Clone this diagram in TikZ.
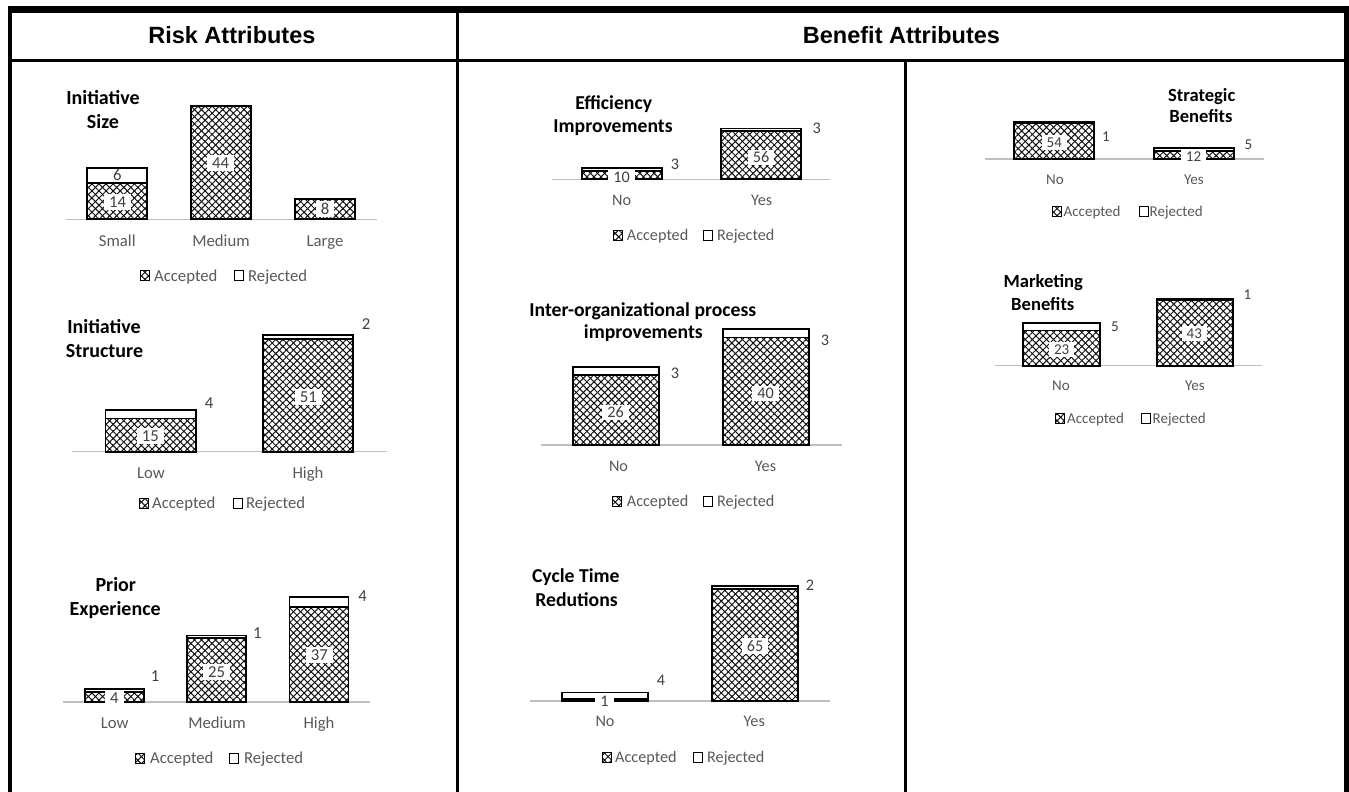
\documentclass[tikz,border=0pt]{standalone}
\usepackage{fontspec}
\setmainfont{Carlito}
\newfontfamily\hdrfont{Liberation Sans}
\usetikzlibrary{patterns.meta}
\definecolor{catgray}{HTML}{595959}
\definecolor{valgray}{HTML}{404040}
\definecolor{axgray}{HTML}{BFBFBF}
\definecolor{patc}{HTML}{101010}
\tikzset{
  frame/.style={draw=black},
  hdr/.style={font=\hdrfont\bfseries\fontsize{23.5}{28}\selectfont, anchor=base, inner sep=0pt},
  fs/.style={font=\fontsize{16.7}{20}\selectfont, text height=10.7pt},
  tfs/.style={font=\bfseries\fontsize{20}{24}\selectfont, text height=12.9pt},
  ttl/.style={tfs, text=black, text depth=0pt, inner sep=0pt},
  cat/.style={fs, text=catgray, text depth=0pt, inner sep=0pt},
  leg/.style={cat, anchor=west},
  val/.style={fs, text=valgray, text depth=0pt, fill=white, inner xsep=5pt, inner ysep=2.5pt},
  valout/.style={fs, text=valgray, text depth=0pt, inner sep=0pt},
  axis/.style={draw=axgray, line width=1.3pt},
  barline/.style={draw=black, line width=1.8pt},
  accpat/.style={pattern={Lines[angle=45,distance=5pt,line width=1pt]}, pattern color=patc,
     preaction={pattern={Lines[angle=-45,distance=5pt,line width=1pt]}, pattern color=patc}},
  legbox/.style={draw=black, line width=1pt},
}
% #1 name, #2 cx, #3 width, #4 base y, #5 accepted height, #6 rejected height
\newcommand\mybar[6]{%
  \path[accpat] ({#2-#3/2},#4) rectangle ({#2+#3/2},{#4-#5});
  \draw[barline] ({#2-#3/2},#4) rectangle ({#2+#3/2},{#4-#5});
  \ifdim #6pt>0pt \draw[barline,fill=white] ({#2-#3/2},{#4-#5}) rectangle ({#2+#3/2},{#4-#5-#6});\fi
  \coordinate (#1) at (#2,{#4-#5-#6});
}
% #1 name, #2 y, #3 acc marker cx, #4 acc text x, #5 rej marker cx, #6 rej text x
\newcommand\mylegend[6]{%
  \path[accpat] ({#3-4.5},{#2-5}) rectangle ({#3+4.5},{#2+5});
  \draw[legbox] ({#3-4.5},{#2-5}) rectangle ({#3+4.5},{#2+5});
  \node[leg] (#1a) at (#4,#2) {Accepted};
  \draw[legbox,fill=white] ({#5-4.5},{#2-5}) rectangle ({#5+4.5},{#2+5});
  \node[leg] (#1r) at (#6,#2) {Rejected};
}
\begin{document}
\begin{tikzpicture}[x=1pt,y=-1pt]
\useasboundingbox (0,0) rectangle (1349,792);
\fill[white] (0,0) rectangle (1349,792);
% ---- frame
\draw[frame, line width=3.5pt] (10,6) -- (10,792);
\draw[frame, line width=5pt] (1346,6) -- (1346,792);
\draw[frame, line width=7pt] (8,9.5) -- (1349,9.5);
\draw[frame, line width=3pt] (10,60.7) -- (1346,60.7);
\draw[frame, line width=3pt] (457.7,9.5) -- (457.7,792);
\draw[frame, line width=2.7pt] (905.3,60.7) -- (905.3,792);
\node[hdr] (hrisk) at (231.9,43.7) {Risk Attributes};
\node[hdr] (hben) at (901.5,43.7) {Benefit Attributes};

% ---- Chart 1: Initiative Size
\node[ttl] (t1a) at (103,97.7) {Initiative};
\node[ttl] (t1b) at (103,121.7) {Size};
\draw[axis] (65.7,219.3) -- (376.7,219.3);
\mybar{b1s}{117.3}{60}{219.3}{36.1}{15.5}
\mybar{b1m}{221.2}{60}{219.3}{113.5}{0}
\mybar{b1l}{324.7}{60}{219.3}{20.6}{0}
\node[valout] (v1sr) at (117.3,175.6) {6};
\node[val] (v1sa) at (117.7,202.3) {14};
\node[val] (v1ma) at (220.7,163.3) {44};
\node[val] (v1la) at (325,209.3) {8};
\node[cat] (c1s) at (117.3,240.7) {Small};
\node[cat] (c1m) at (221,240.7) {Medium};
\node[cat] (c1l) at (325,240.7) {Large};
\mylegend{l1}{275.7}{144.5}{154}{239.3}{248}

% ---- Chart 2: Initiative Structure
\node[ttl] (t2a) at (104,326.7) {Initiative};
\node[ttl] (t2b) at (104.5,350.7) {Structure};
\draw[axis] (71.7,451.7) -- (386.7,451.7);
\mybar{b2l}{150.8}{90.5}{451.7}{33.2}{8.8}
\mybar{b2h}{308}{90.5}{451.7}{112.7}{4.4}
\node[val] (v2la) at (150.3,436) {15};
\node[val] (v2ha) at (308.3,396.7) {51};
\node[valout] (v2lr) at (209,402.7) {4};
\node[valout] (v2hr) at (366,324) {2};
\node[cat] (c2l) at (151,473.3) {Low};
\node[cat] (c2h) at (308,473.3) {High};
\mylegend{l2}{503.5}{143.5}{152}{238}{246}

% ---- Chart 3: Prior Experience
\node[ttl] (t3a) at (115.8,585) {Prior};
\node[ttl] (t3b) at (115.2,609) {Experience};
\draw[axis] (62.7,702) -- (370,702);
\mybar{b3l}{114.5}{59}{702}{10.2}{2.56}
\mybar{b3m}{216.5}{59}{702}{64}{2.56}
\mybar{b3h}{319}{59}{702}{94.7}{10.2}
\node[val] (v3la) at (114.3,697.7) {4};
\node[val] (v3ma) at (216.7,671.7) {25};
\node[val] (v3ha) at (319.3,655) {37};
\node[valout] (v3lr) at (155,675.7) {1};
\node[valout] (v3mr) at (257.3,633.3) {1};
\node[valout] (v3hr) at (362.7,595.7) {4};
\node[cat] (c3l) at (114.7,722.7) {Low};
\node[cat] (c3m) at (217,722.7) {Medium};
\node[cat] (c3h) at (319,722.7) {High};
\mylegend{l3}{758.3}{140}{150}{234.3}{244}

\begin{scope}[fs/.style={font=\fontsize{16.2}{20}\selectfont, text height=10.4pt},
              tfs/.style={font=\bfseries\fontsize{19.7}{24}\selectfont, text height=12.7pt}]
% ---- Chart 4: Efficiency Improvements
\node[ttl] (t4a) at (613.7,102.7) {Efficiency};
\node[ttl] (t4b) at (613,125.7) {Improvements};
\draw[axis] (551.7,179.3) -- (830,179.3);
\mybar{b4n}{621.7}{80}{179.3}{8.6}{2.6}
\mybar{b4y}{760.7}{80}{179.3}{48.2}{2.6}
\node[val] (v4na) at (621.7,177.7) {10};
\node[val] (v4ya) at (761,157.3) {56};
\node[valout] (v4nr) at (675,164.3) {3};
\node[valout] (v4yr) at (816.7,128.3) {3};
\node[cat] (c4n) at (621.7,200.7) {No};
\node[cat] (c4y) at (761.7,200.7) {Yes};
\mylegend{l4}{235}{617.5}{626.7}{708.3}{717}

% ---- Chart 5: Inter-organizational process improvements
\node[ttl] (t5a) at (642.8,310) {Inter-organizational process};
\node[ttl] (t5b) at (643.3,332) {improvements};
\draw[axis] (541,445) -- (841.7,445);
\mybar{b5n}{616.2}{85.7}{445}{69.9}{8.1}
\mybar{b5y}{766.2}{85.7}{445}{107.6}{8.1}
\node[val] (v5na) at (615.7,412.7) {26};
\node[val] (v5ya) at (765.7,393.3) {40};
\node[valout] (v5nr) at (675,373.3) {3};
\node[valout] (v5yr) at (825,340) {3};
\node[cat] (c5n) at (618.5,466.7) {No};
\node[cat] (c5y) at (765.5,466.7) {Yes};
\mylegend{l5}{501.7}{616.7}{626.7}{708.3}{717}

% ---- Chart 6: Cycle Time Redutions
\node[ttl] (t6a) at (575.8,576) {Cycle Time};
\node[ttl] (t6b) at (576.5,600) {Redutions};
\draw[axis] (530,701) -- (830,701);
\mybar{b6n}{604.7}{86}{701}{1.7}{6.9}
\mybar{b6y}{755}{86}{701}{111.8}{3.4}
\node[val] (v6na) at (604.5,701.7) {1};
\node[val] (v6ya) at (755,646) {65};
\node[valout] (v6nr) at (661,680) {4};
\node[valout] (v6yr) at (810,585) {2};
\node[cat] (c6n) at (605,721.7) {No};
\node[cat] (c6y) at (754.3,721.7) {Yes};
\mylegend{l6}{757.3}{607.2}{615}{698.3}{707}
\end{scope}

\begin{scope}[fs/.style={font=\fontsize{15}{18}\selectfont, text height=9.6pt},
              tfs/.style={font=\bfseries\fontsize{18.6}{22}\selectfont, text height=12pt}]
% ---- Chart 7: Strategic Benefits
\node[ttl] (t7a) at (1201.7,95.7) {Strategic};
\node[ttl] (t7b) at (1201,116.7) {Benefits};
\draw[axis] (985,159) -- (1264,159);
\mybar{b7n}{1054.2}{80}{159}{36}{0.67}
\mybar{b7y}{1194}{80}{159}{8}{3.3}
\node[val] (v7na) at (1054.3,142.3) {54};
\node[val] (v7ya) at (1193.5,156.7) {12};
\node[valout] (v7nr) at (1106,136.7) {1};
\node[valout] (v7yr) at (1248.3,144.3) {5};
\node[cat] (c7n) at (1055,179.3) {No};
\node[cat] (c7y) at (1194,179.3) {Yes};
\mylegend{l7}{211.7}{1056.7}{1063.5}{1143.5}{1149.5}

% ---- Chart 8: Marketing Benefits
\node[ttl] (t8a) at (1043.3,281.7) {Marketing};
\node[ttl] (t8b) at (1042.8,304) {Benefits};
\draw[axis] (995,365.7) -- (1261.7,365.7);
\mybar{b8n}{1061.7}{76.7}{365.7}{35.2}{7.7}
\mybar{b8y}{1195}{76.7}{365.7}{65.8}{1.5}
\node[val] (v8na) at (1061.7,349.3) {23};
\node[val] (v8ya) at (1194.3,333.3) {43};
\node[valout] (v8nr) at (1115,326.7) {5};
\node[valout] (v8yr) at (1247.3,295) {1};
\node[cat] (c8n) at (1061,386) {No};
\node[cat] (c8y) at (1195,386) {Yes};
\mylegend{l8}{418.3}{1060}{1067}{1146}{1152.5}
\end{scope}
\end{tikzpicture}
\end{document}
